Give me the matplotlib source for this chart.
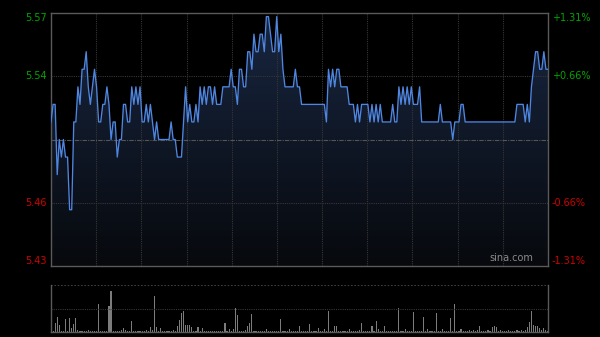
import numpy as np
import matplotlib
matplotlib.use("Agg")
import matplotlib.pyplot as plt
from matplotlib.transforms import blended_transform_factory

# intraday data, one point per minute (cents above 5.00)
prev_close = 5.50
price_cents = [
    51, 52, 52, 48, 50, 49, 50, 49, 49, 46, 46, 51, 51, 53, 52, 54, 54, 55, 53, 52,
    53, 54, 53, 51, 51, 52, 52, 53, 52, 50, 51, 51, 49, 50, 50, 52, 52, 51, 51, 53,
    52, 53, 52, 53, 51, 51, 52, 51, 52, 51, 50, 51, 50, 50, 50, 50, 50, 50, 51, 50,
    50, 49, 49, 49, 51, 53, 51, 52, 51, 51, 52, 51, 53, 52, 53, 52, 53, 53, 52, 53,
    52, 52, 52, 53, 53, 53, 53, 54, 53, 53, 52, 54, 54, 53, 53, 55, 55, 54, 56, 55,
    55, 56, 56, 55, 57, 57, 56, 55, 55, 57, 55, 56, 54, 53, 53, 53, 53, 53, 54, 53,
    53, 52, 52, 52, 52, 52, 52, 52, 52, 52, 52, 52, 52, 51, 54, 53, 54, 53, 54, 54,
    53, 53, 53, 53, 52, 52, 52, 51, 52, 51, 52, 52, 52, 52, 51, 52, 51, 52, 51, 52,
    51, 51, 51, 51, 51, 52, 51, 51, 53, 52, 53, 52, 53, 52, 53, 52, 52, 52, 53, 51,
    51, 51, 51, 51, 51, 51, 51, 51, 52, 51, 51, 51, 51, 51, 50, 51, 51, 51, 52, 52,
    51, 51, 51, 51, 51, 51, 51, 51, 51, 51, 51, 51, 51, 51, 51, 51, 51, 51, 51, 51,
    51, 51, 51, 51, 51, 52, 52, 52, 52, 51, 52, 51, 53, 54, 55, 55, 54, 54, 55, 54,
    54,
]
volume = [
    4, 3, 19, 32, 15, 3, 2, 27, 3, 30, 8, 18, 30, 5, 2, 3, 2, 3, 4, 2,
    3, 2, 3, 60, 2, 3, 2, 3, 56, 87, 3, 2, 3, 2, 4, 8, 4, 3, 2, 23,
    3, 2, 3, 2, 3, 2, 4, 3, 10, 4, 77, 10, 3, 8, 3, 2, 3, 2, 3, 4,
    3, 13, 26, 40, 44, 15, 15, 15, 10, 3, 2, 10, 3, 8, 2, 3, 2, 3, 2, 3,
    2, 3, 2, 3, 20, 3, 7, 3, 7, 51, 37, 3, 2, 3, 4, 13, 20, 38, 3, 2,
    3, 2, 3, 2, 6, 3, 2, 3, 2, 3, 2, 28, 3, 2, 3, 7, 2, 3, 2, 3,
    12, 3, 2, 3, 2, 18, 3, 2, 3, 8, 2, 3, 7, 3, 44, 3, 2, 12, 12, 3,
    2, 3, 2, 3, 6, 2, 3, 2, 3, 4, 20, 3, 2, 3, 2, 12, 3, 24, 7, 3,
    2, 13, 3, 2, 3, 2, 3, 2, 51, 3, 2, 6, 3, 2, 3, 42, 3, 2, 3, 2,
    32, 3, 6, 2, 3, 2, 40, 3, 2, 6, 3, 2, 3, 30, 3, 60, 3, 2, 7, 3,
    2, 3, 4, 3, 5, 3, 4, 13, 3, 2, 3, 4, 3, 10, 12, 10, 3, 4, 3, 2,
    3, 4, 3, 2, 3, 4, 3, 5, 3, 4, 10, 21, 44, 15, 13, 12, 8, 5, 8, 4,
    3,
]
left_labels = ["5.57", "5.54", "5.46", "5.43"]
right_labels = ["+1.31%", "+0.66%", "-0.66%", "-1.31%"]
label_pcts = [1.31, 0.66, -0.66, -1.31]

price = prev_close + np.array(price_cents) / 100.0 - 0.50
x = np.arange(len(price))
lo = prev_close * (1 - 0.0131)
hi = prev_close * (1 + 0.0131)

bg = "#000000"
grid_col = "#363636"
frame_col = "#5a5a5a"
green = "#00a600"
red = "#d00000"

fig = plt.figure(figsize=(6, 3.37), dpi=100, facecolor=bg)
ax = fig.add_axes([51 / 600, 71 / 337, 497 / 600, 253 / 337], facecolor=bg)
axv = fig.add_axes([51 / 600, 5 / 337, 497 / 600, 47 / 337], facecolor=bg)

ax.set_xlim(0, len(price) - 1)
ax.set_ylim(lo, hi)

# gradient fill under the line
fill = ax.fill_between(x, price, lo, color="none")
grad = np.linspace(0, 1, 256).reshape(-1, 1)
cmap = matplotlib.colors.LinearSegmentedColormap.from_list("g", ["#07090d", "#182640"])
img = ax.imshow(grad, cmap=cmap, origin="lower", aspect="auto",
                extent=[0, len(price) - 1, lo, 5.57], zorder=1)
img.set_clip_path(fill.get_paths()[0], transform=ax.transData)

ax.plot(x, price, color="#4f86e0", lw=0.95, zorder=3)

# grid
for k in range(1, 11):
    ax.axvline(k * (len(price) - 1) / 11, color=grid_col, lw=0.8, ls=(0, (1, 1)), zorder=2)
for p in [0.66, -0.66]:
    ax.axhline(prev_close * (1 + p / 100), color=grid_col, lw=0.8, ls=(0, (1, 1)), zorder=2)
ax.axhline(prev_close, color="#555555", lw=0.8, ls=(0, (4, 1, 1, 1)), zorder=2)

for s in ax.spines.values():
    s.set_color(frame_col)
    s.set_linewidth(1)
ax.set_xticks([])
ax.set_yticks([])

trans_l = blended_transform_factory(fig.transFigure, ax.transData)
for lab, pct in zip(left_labels, label_pcts):
    yv = prev_close * (1 + pct / 100)
    col = green if pct > 0 else red
    va = "center"
    if pct == 1.31:
        va = "top"
    elif pct == -1.31:
        va = "bottom"
    ax.text(47 / 600, yv, lab, transform=trans_l, ha="right", va=va,
            color=col, fontsize=7)
for lab, pct in zip(right_labels, label_pcts):
    yv = prev_close * (1 + pct / 100)
    col = green if pct > 0 else red
    va = "center"
    if pct == 1.31:
        va = "top"
    elif pct == -1.31:
        va = "bottom"
    ax.text(552 / 600, yv, lab, transform=trans_l, ha="left", va=va,
            color=col, fontsize=7)

ax.text(0.97, 0.012, "sina.com", transform=ax.transAxes, ha="right", va="bottom",
        color="#8a8a8a", fontsize=7, zorder=4)

# volume panel
axv.bar(x, volume, width=0.55, color="#7c7c7c", linewidth=0)
axv.set_xlim(0, len(price) - 1)
axv.set_ylim(0, 100)
axv.axhline(50, color=grid_col, lw=0.8, ls=(0, (1, 1)))
axv.axhline(100, color="#4a4a4a", lw=1.2, ls=(0, (1, 1)))
axv.spines["top"].set_visible(False)
for s in ["left", "right", "bottom"]:
    axv.spines[s].set_color(frame_col)
    axv.spines[s].set_linewidth(1)
axv.set_xticks([])
axv.set_yticks([])

fig.savefig("out.png", dpi=100, facecolor=bg)
